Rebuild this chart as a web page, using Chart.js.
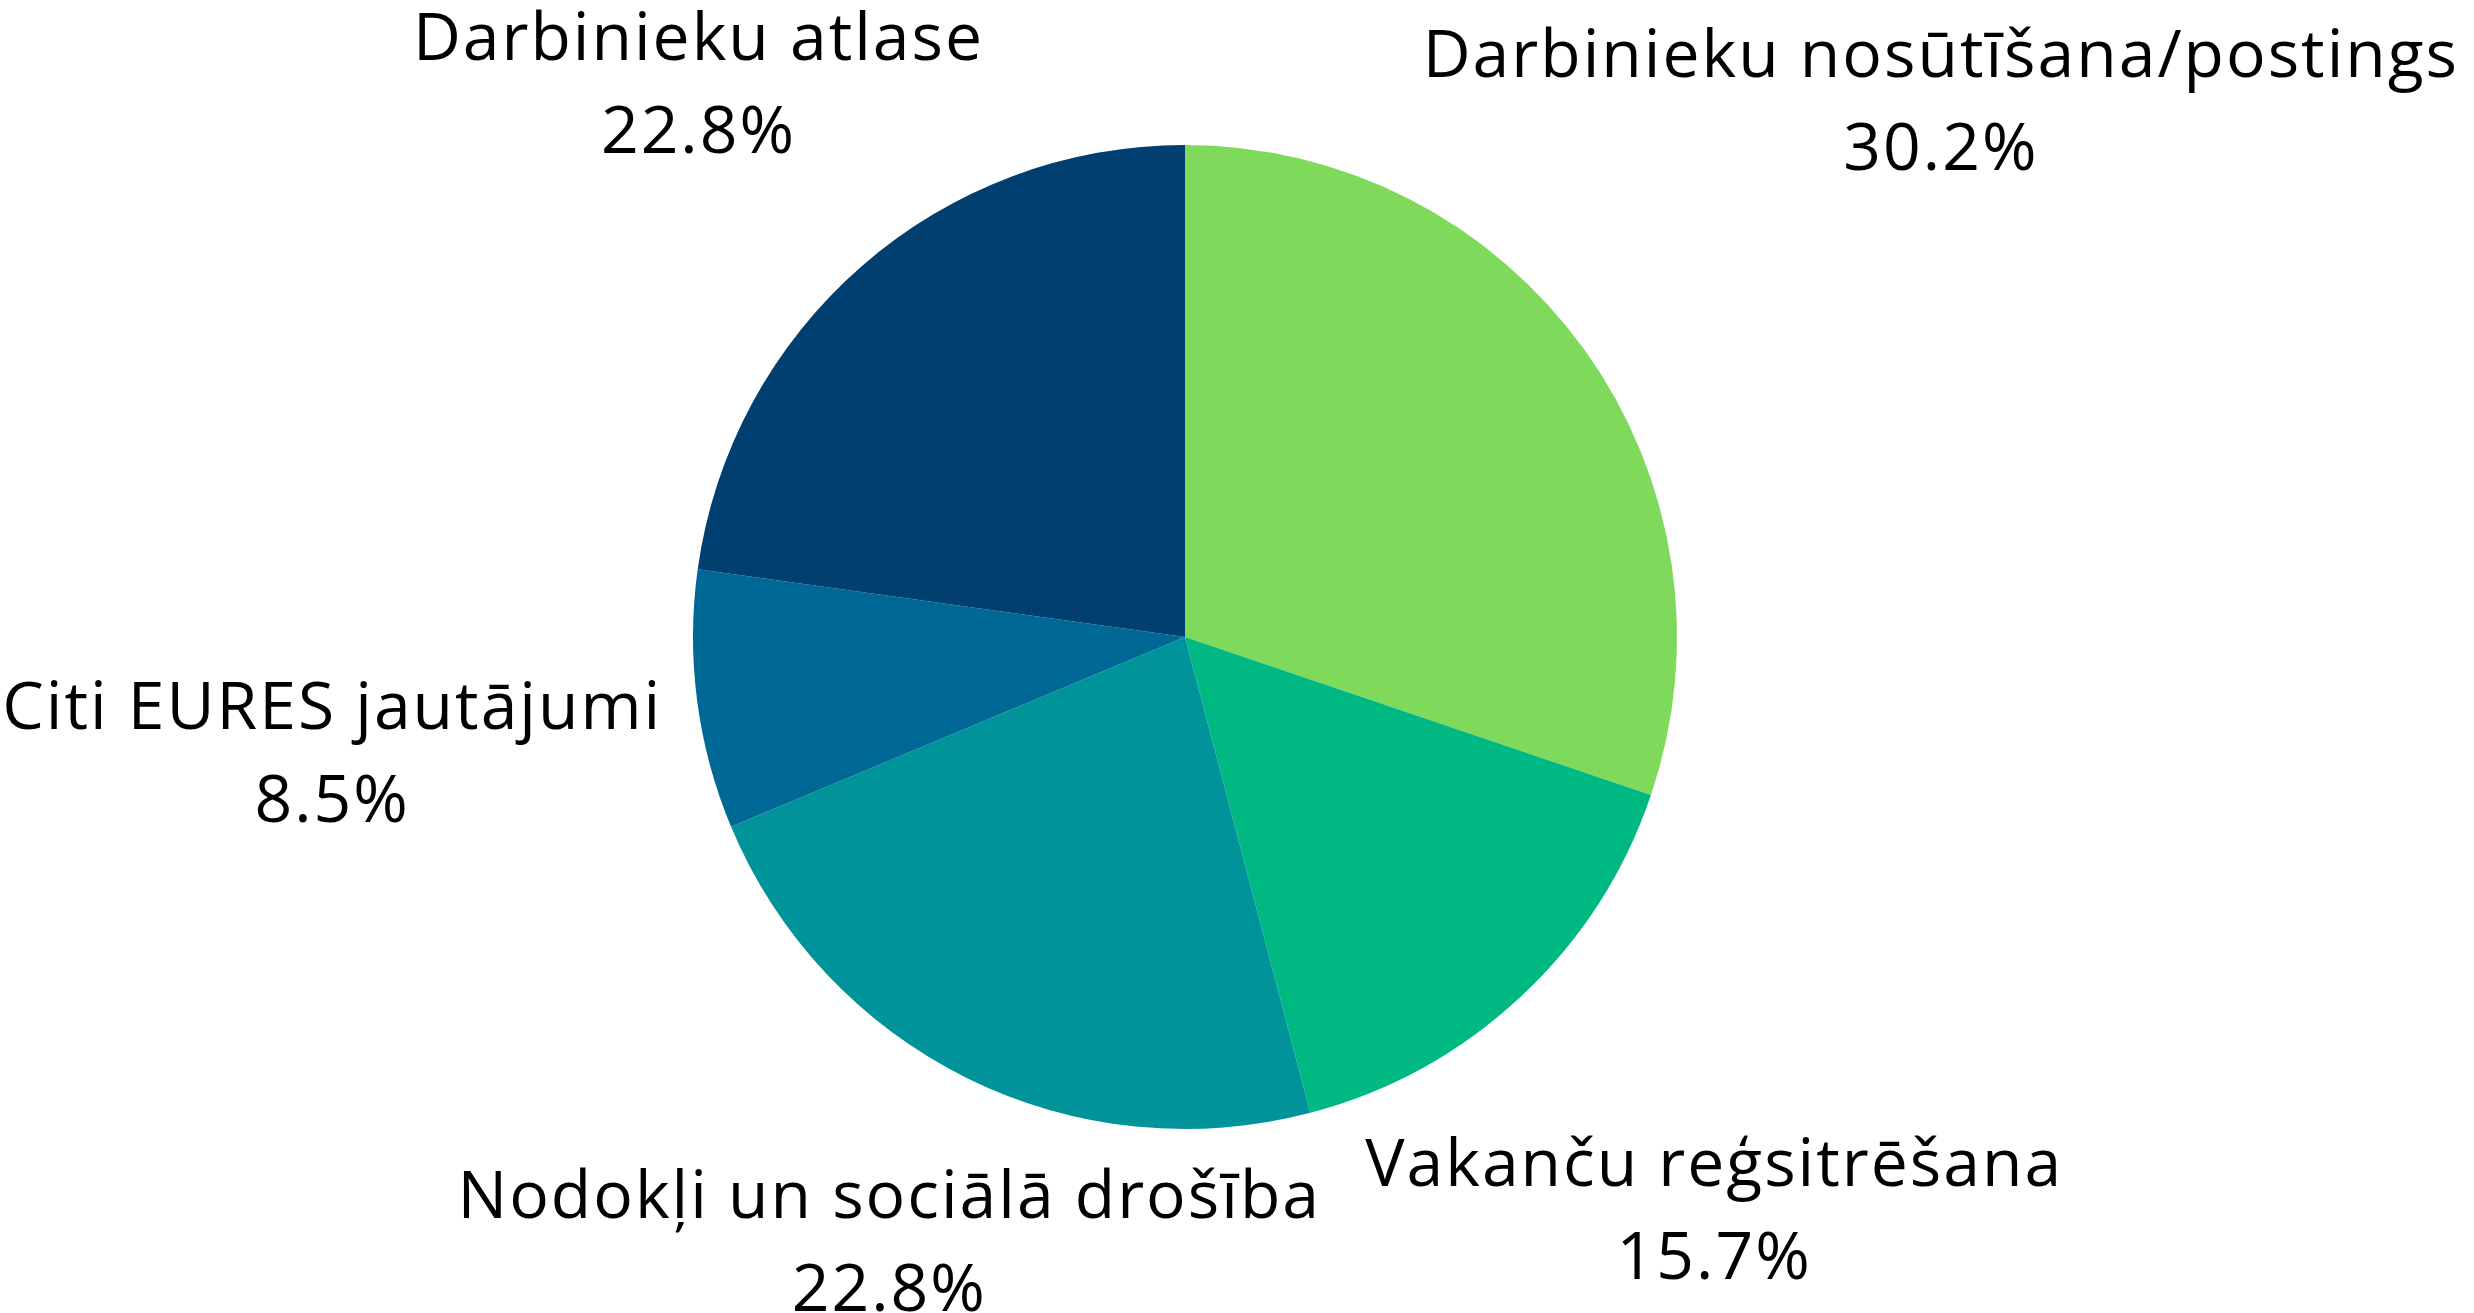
<!DOCTYPE html>
<html>
<head>
<meta charset="utf-8">
<script src="https://cdn.jsdelivr.net/npm/chart.js@4.4.0/dist/chart.umd.min.js"></script>
<style>
  html, body { margin: 0; padding: 0; background: #fff; }
  #wrap { width: 2474px; height: 1313px; position: relative; }
</style>
</head>
<body>
<div id="wrap"><canvas id="pie"></canvas></div>
<script>
const categories = [
  'Darbinieku nosūtīšana/postings',
  'Vakanču reģsitrēšana',
  'Nodokļi un sociālā drošība',
  'Citi EURES jautājumi',
  'Darbinieku atlase'
];
const shares = [30.2, 15.7, 22.8, 8.5, 22.8];
const sliceColors = ['#7FD95A', '#00B982', '#00939A', '#006894', '#003F70'];

const FONT_FAMILY = '"Open Sans", "Noto Sans", sans-serif';
const FONT_SIZE = 66;
const LETTER_SPACING = '2px';
const LINE_GAP = 93;
const LABEL_GAP = 32;
const BOX_TOP_PAD = 10; // room for accents above the first line

// labels outside, centred on the mid-angle, pushed out until the text box clears the pie
const outsideLabels = {
  id: 'outsideLabels',
  afterDatasetsDraw(chart) {
    const ctx = chart.ctx;
    const meta = chart.getDatasetMeta(0);
    ctx.save();
    ctx.font = FONT_SIZE + 'px ' + FONT_FAMILY;
    if ('letterSpacing' in ctx) ctx.letterSpacing = LETTER_SPACING;
    ctx.fillStyle = '#000';
    ctx.textAlign = 'center';
    ctx.textBaseline = 'alphabetic';
    const capH = ctx.measureText('D').actualBoundingBoxAscent;

    meta.data.forEach((arc, i) => {
      const p = arc.getProps(['x', 'y', 'startAngle', 'endAngle', 'outerRadius'], true);
      const mid = (p.startAngle + p.endAngle) / 2;
      const dx = Math.cos(mid), dy = Math.sin(mid);
      const line1 = chart.data.labels[i];
      const line2 = chart.data.datasets[0].data[i].toFixed(1) + '%';
      const hw = Math.max(ctx.measureText(line1).width, ctx.measureText(line2).width) / 2;
      const hh = (BOX_TOP_PAD + capH + LINE_GAP) / 2;
      const target = p.outerRadius + LABEL_GAP;

      const clearance = (t) => {
        const ex = Math.max(Math.abs(t * dx) - hw, 0);
        const ey = Math.max(Math.abs(t * dy) - hh, 0);
        return Math.hypot(ex, ey);
      };
      let lo = 0, hi = 4000;
      for (let k = 0; k < 60; k++) {
        const m = (lo + hi) / 2;
        if (clearance(m) < target) lo = m; else hi = m;
      }
      const cx = p.x + hi * dx;
      const cy = p.y + hi * dy;
      const top = cy - hh + BOX_TOP_PAD;
      ctx.fillText(line1, cx, top + capH);
      ctx.fillText(line2, cx, top + capH + LINE_GAP);
    });
    ctx.restore();
  }
};

new Chart(document.getElementById('pie'), {
  type: 'pie',
  data: {
    labels: categories,
    datasets: [{
      data: shares,
      backgroundColor: sliceColors,
      borderWidth: 0
    }]
  },
  options: {
    responsive: true,
    maintainAspectRatio: false,
    animation: false,
    layout: {
      padding: { top: 145, bottom: 184, left: 693, right: 797 }
    },
    plugins: {
      legend: { display: false },
      tooltip: { enabled: false }
    }
  },
  plugins: [outsideLabels]
});
</script>
</body>
</html>
